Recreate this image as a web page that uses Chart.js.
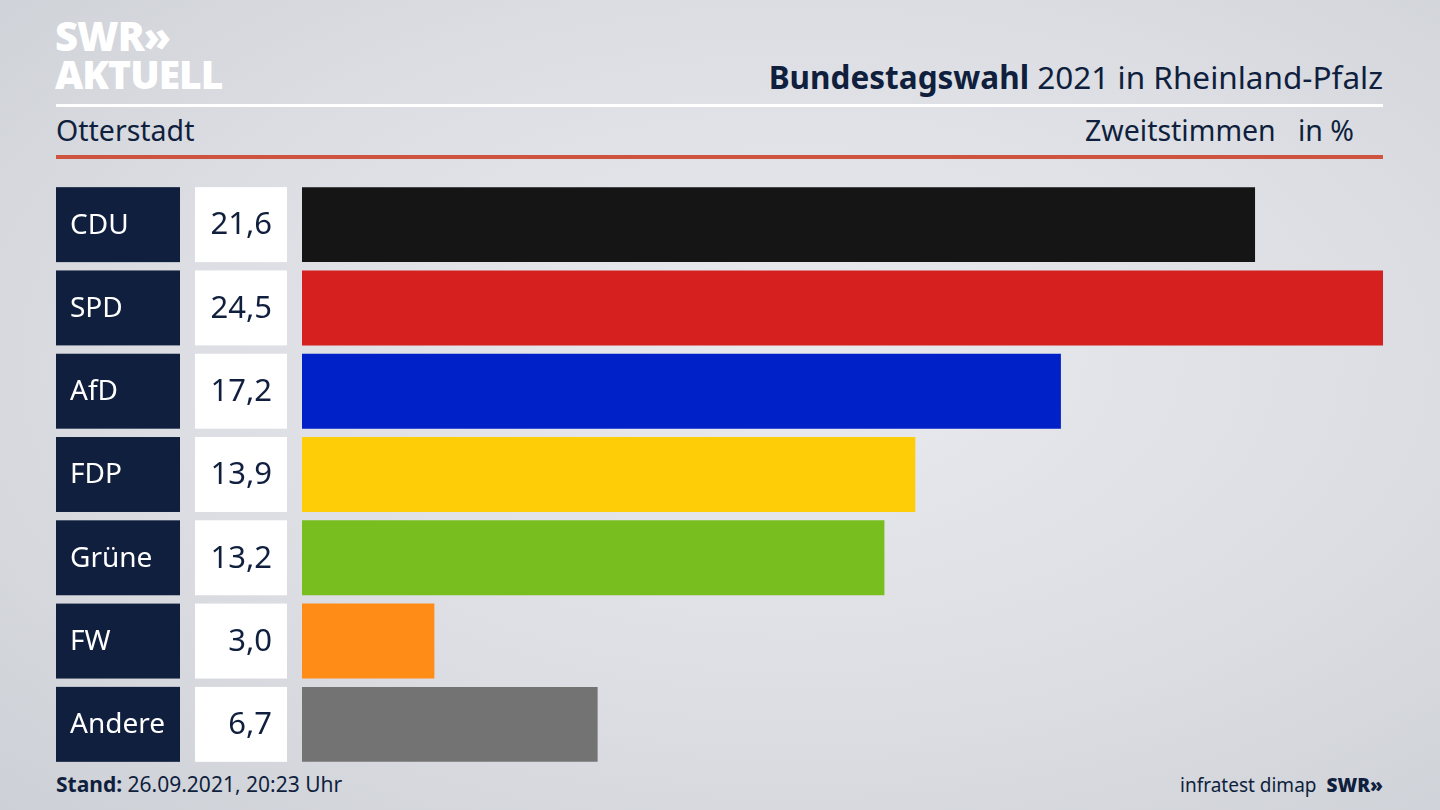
<!DOCTYPE html>
<html>
<head>
<meta charset="utf-8">
<script src="https://cdn.jsdelivr.net/npm/chart.js@4"></script>
<style>
  html, body { margin: 0; padding: 0; }
  body {
    width: 1440px; height: 810px; overflow: hidden; position: relative;
    background: radial-gradient(ellipse at 55% 45%, #e9eaee 0%, #dcdee3 55%, #cdd0d6 100%);
    font-family: "Noto Sans", sans-serif; color: #0f1f3d;
  }
  .abs { position: absolute; white-space: nowrap; }
  #logo1 { left: 55px; top: 8px; font-size: 40px; font-weight: 900; color: #fff; letter-spacing: -1px; }
  #logo2 { left: 55px; top: 47px; font-size: 39px; font-weight: 900; color: #fff; letter-spacing: -1px; }
  #title { right: 57px; top: 55px; font-size: 31.5px; }
  #title b { font-weight: 700; }
  #place { left: 56px; top: 111px; font-size: 28.5px; }
  #unit { right: 86px; top: 111px; font-size: 28.5px; }
  #line1 { left: 56px; top: 104px; width: 1327px; height: 3px; background: #fff; }
  #line2 { left: 56px; top: 155px; width: 1327px; height: 4px; background: #cf5440; }
  #stand { left: 56px; top: 770px; font-size: 21px; }
  #source { right: 57px; top: 772px; font-size: 19px; }
  #source b { font-weight: 900; margin-left: 10px; }
  canvas { position: absolute; left: 0; top: 0; }
</style>
</head>
<body>
<div class="abs" id="logo1">SWR»</div>
<div class="abs" id="logo2">AKTUELL</div>
<div class="abs" id="title"><b>Bundestagswahl</b> 2021 in Rheinland-Pfalz</div>
<div class="abs" id="line1"></div>
<div class="abs" id="place">Otterstadt</div>
<div class="abs" id="unit">Zweitstimmen&nbsp;&nbsp;&nbsp;in %</div>
<div class="abs" id="line2"></div>
<div class="abs" id="stand"><b>Stand:</b> 26.09.2021, 20:23 Uhr</div>
<div class="abs" id="source">infratest dimap<b>SWR»</b></div>
<div style="position:absolute;left:0;top:0;width:1440px;height:810px;">
  <canvas id="result-chart"></canvas>
</div>
<script>
const parties = ["CDU", "SPD", "AfD", "FDP", "Grüne", "FW", "Andere"];
const shares = [21.6, 24.5, 17.2, 13.9, 13.2, 3.0, 6.7];
const party_colors = ["#151515", "#d61f1f", "#0021c8", "#ffcc08", "#78be1e", "#ff8c17", "#737373"];

const format_value = (v) => v.toFixed(1).replace(".", ",");

const boxes_plugin = {
  id: "boxes",
  afterDatasetsDraw(chart) {
    const ctx = chart.ctx;
    const y_scale = chart.scales.y;
    const meta = chart.getDatasetMeta(0);
    ctx.save();
    parties.forEach((party, i) => {
      const bar = meta.data[i];
      const cy = y_scale.getPixelForValue(i);
      const h = bar.height;
      const top = cy - h / 2;
      ctx.fillStyle = "#0f1f3d";
      ctx.fillRect(56, top, 124, h);
      ctx.fillStyle = "#ffffff";
      ctx.fillRect(195, top, 92, h);
      ctx.textBaseline = "middle";
      ctx.font = '28px "Noto Sans"';
      ctx.textAlign = "left";
      ctx.fillStyle = "#ffffff";
      ctx.fillText(party, 70, cy + 1);
      ctx.font = '31px "Noto Sans"';
      ctx.textAlign = "right";
      ctx.fillStyle = "#0f1f3d";
      ctx.fillText(format_value(shares[i]), 272, cy + 1);
    });
    ctx.restore();
  },
};

const config = {
  type: "bar",
  data: {
    labels: parties,
    datasets: [{
      data: shares,
      backgroundColor: party_colors,
      borderWidth: 0,
      barPercentage: 0.9,
      categoryPercentage: 1,
    }],
  },
  options: {
    indexAxis: "y",
    responsive: true,
    maintainAspectRatio: false,
    animation: false,
    layout: { padding: { left: 302, right: 57, top: 183, bottom: 44 } },
    plugins: { legend: { display: false }, tooltip: { enabled: false } },
    scales: {
      x: { display: false, min: 0, max: 24.5 },
      y: { display: false },
    },
  },
  plugins: [boxes_plugin],
};

new Chart(document.getElementById("result-chart"), config);
</script>
</body>
</html>
